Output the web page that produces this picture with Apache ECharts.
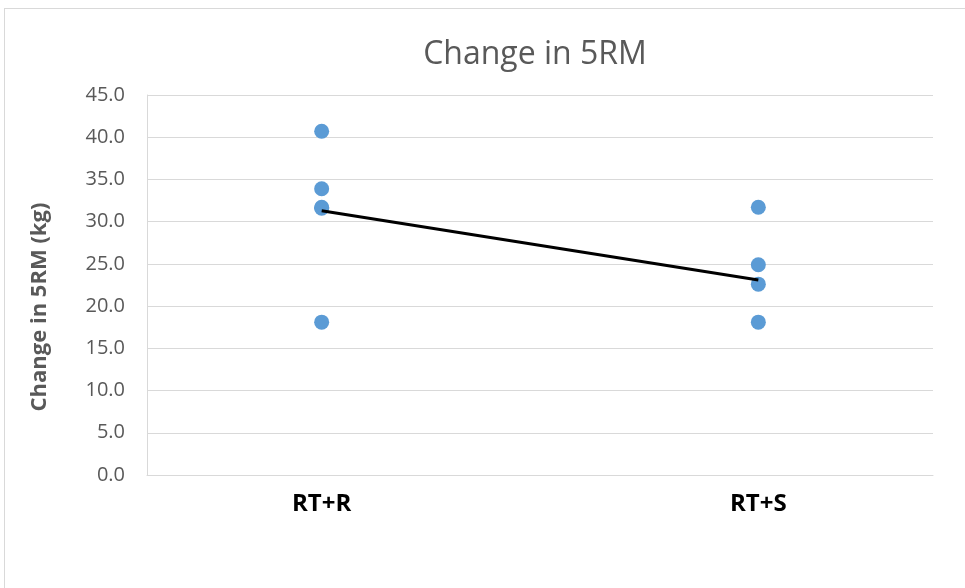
<!DOCTYPE html>
<html>
<head>
<meta charset="utf-8">
<script src="https://cdn.jsdelivr.net/npm/echarts@6/dist/echarts.min.js"></script>
<style>
  html, body { margin: 0; padding: 0; background: #fff; }
  #frame { position: absolute; left: 4px; top: 8px; width: 980px; height: 600px; border: 1px solid #d9d9d9; box-sizing: border-box; }
  #chart { position: absolute; left: 0; top: 0; width: 965px; height: 588px; }
</style>
</head>
<body>
<div id="frame"></div>
<div id="chart"></div>
<script>
// groups and their x position
var categories = ['RT+R', 'RT+S']
var categoryX = [1, 2]
// individual changes (kg)
var rtrValues = [40.7, 33.9, 31.7, 31.6, 18.1]
var rtsValues = [31.7, 24.9, 22.6, 18.1]
// group means joined by the line
var meanValues = [31.3, 23.1]
var yTicks = { min: 0, max: 45, interval: 5 }

var points = []
rtrValues.forEach(function (v) { points.push([categoryX[0], v]) })
rtsValues.forEach(function (v) { points.push([categoryX[1], v]) })

var chart = echarts.init(document.getElementById('chart'))
chart.setOption({
  animation: false,
  title: {
    text: 'Change in 5RM',
    left: 530,
    textAlign: 'center',
    top: 34,
    textStyle: { fontFamily: 'Open Sans', fontWeight: 'normal', fontSize: 32, color: '#595959' }
  },
  grid: { left: 147, right: 32, top: 95, bottom: 113 },
  xAxis: {
    type: 'value',
    min: 0.6,
    max: 2.4,
    interval: 0.2,
    splitLine: { show: false },
    axisTick: { show: false },
    axisLine: { lineStyle: { color: '#d9d9d9' } },
    axisLabel: {
      margin: 17,
      fontFamily: 'Open Sans',
      fontWeight: 'bold',
      fontSize: 24,
      color: '#000',
      formatter: function (v) {
        for (var i = 0; i < categoryX.length; i++) {
          if (Math.abs(v - categoryX[i]) < 1e-6) return categories[i]
        }
        return ''
      }
    }
  },
  yAxis: {
    type: 'value',
    min: yTicks.min,
    max: yTicks.max,
    interval: yTicks.interval,
    name: 'Change in 5RM (kg)',
    nameLocation: 'middle',
    nameGap: 96,
    nameTextStyle: { fontFamily: 'Open Sans', fontWeight: 'bold', fontSize: 22, color: '#595959', padding: [0, 44, 0, 0] },
    axisLine: { show: true, lineStyle: { color: '#d9d9d9' } },
    axisTick: { show: false },
    splitLine: { lineStyle: { color: '#d9d9d9' } },
    axisLabel: {
      margin: 22,
      fontFamily: 'Open Sans',
      fontSize: 20,
      color: '#595959',
      formatter: function (v) { return v.toFixed(1) }
    }
  },
  series: [
    {
      type: 'scatter',
      data: points,
      symbolSize: 15,
      itemStyle: { color: '#5b9bd5', opacity: 1 },
      z: 2
    },
    {
      type: 'line',
      data: [[categoryX[0], meanValues[0]], [categoryX[1], meanValues[1]]],
      symbol: 'none',
      lineStyle: { color: '#000', width: 3 },
      z: 3
    }
  ]
})
</script>
</body>
</html>
